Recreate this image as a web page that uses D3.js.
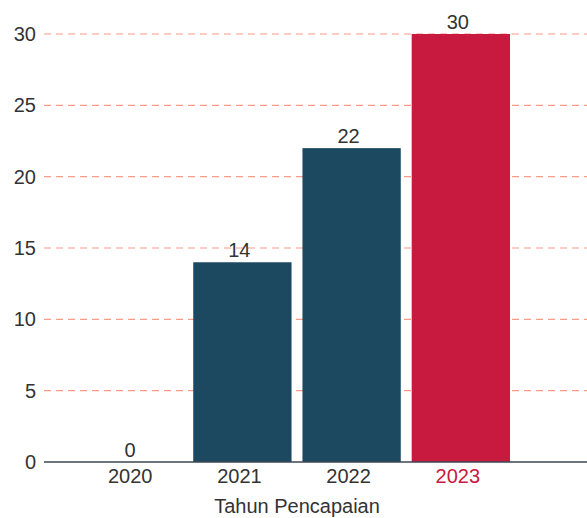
<!DOCTYPE html>
<html>
<head>
<meta charset="utf-8">
<script src="https://cdn.jsdelivr.net/npm/d3@7"></script>
<style>
  html, body { margin: 0; padding: 0; background: #ffffff; }
  svg { display: block; }
  text { font-family: "Liberation Sans", Arial, sans-serif; }
</style>
</head>
<body>
<svg id="chart" width="587" height="518"></svg>
<script>
const categories = ["2020", "2021", "2022", "2023"];
const values = [0, 14, 22, 30];
const yTicks = [0, 5, 10, 15, 20, 25, 30];
const xTitle = "Tahun Pencapaian";

const svg = d3.select("#chart");
const plotLeft = 44, plotRight = 587;
const y = d3.scaleLinear().domain([0, 30]).range([462, 34]);
const x = d3.scaleBand().domain(categories).range([84, 510]).paddingInner(0.1).paddingOuter(0);

const highlight = "2023";
const colorFor = c => c === highlight ? "#c8193f" : "#1c4960";

// gridlines
svg.append("g").selectAll("line")
  .data(yTicks.filter(t => t > 0))
  .join("line")
  .attr("x1", plotLeft).attr("x2", plotRight)
  .attr("y1", d => y(d)).attr("y2", d => y(d))
  .attr("stroke", "#fa9a86")
  .attr("stroke-width", 1.2)
  .attr("stroke-dasharray", "7,5");

// y axis labels
const yAxis = d3.axisLeft(y).tickValues(yTicks).tickSize(0).tickPadding(0);
const gy = svg.append("g").attr("transform", `translate(36,0)`).call(yAxis);
gy.select(".domain").remove();
gy.selectAll("text")
  .attr("font-size", 20)
  .attr("fill", "#333333")
  .attr("font-family", "'Liberation Sans', Arial, sans-serif");

// bars
svg.append("g").selectAll("rect")
  .data(categories)
  .join("rect")
  .attr("x", d => x(d))
  .attr("width", x.bandwidth())
  .attr("y", (d, i) => y(values[i]))
  .attr("height", (d, i) => y(0) - y(values[i]))
  .attr("fill", d => colorFor(d));

// value labels
svg.append("g").selectAll("text")
  .data(categories)
  .join("text")
  .attr("x", d => x(d) + x.bandwidth() / 2 - 3)
  .attr("y", (d, i) => y(values[i]) - 5)
  .attr("text-anchor", "middle")
  .attr("font-size", 20)
  .attr("fill", "#333333")
  .text((d, i) => values[i]);

// x axis
const xAxis = d3.axisBottom(x).tickSize(0).tickPadding(7);
const gx = svg.append("g").attr("transform", `translate(0,${y(0)})`).call(xAxis);
gx.select(".domain").remove();
gx.selectAll("text")
  .attr("font-size", 20)
  .attr("font-family", "'Liberation Sans', Arial, sans-serif")
  .attr("fill", d => d === highlight ? "#c8193f" : "#333333")
  .attr("dx", -3);

svg.append("line")
  .attr("x1", plotLeft).attr("x2", plotRight)
  .attr("y1", y(0)).attr("y2", y(0))
  .attr("stroke", "#3d4750")
  .attr("stroke-width", 1.6);

// x title
svg.append("text")
  .attr("x", 297)
  .attr("y", 513)
  .attr("text-anchor", "middle")
  .attr("font-size", 20)
  .attr("fill", "#333333")
  .text(xTitle);
</script>
</body>
</html>
